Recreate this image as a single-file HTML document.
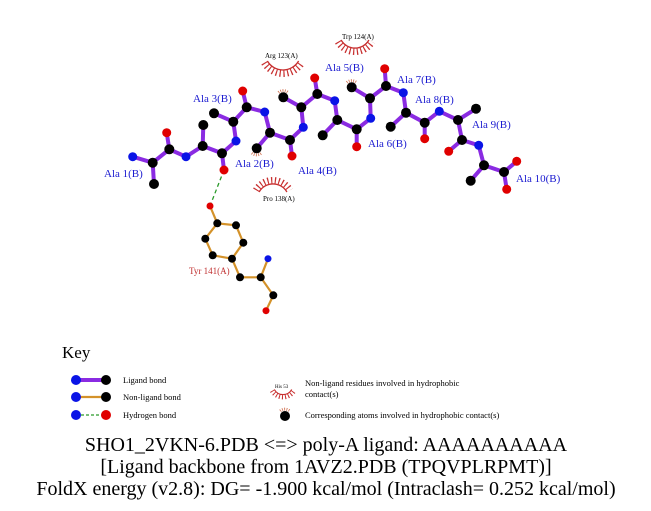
<!DOCTYPE html>
<html><head><meta charset="utf-8"><style>
html,body{margin:0;padding:0;background:#fff;}
svg{display:block;font-family:"Liberation Serif",serif;}
.lb{stroke:#8a2be2;stroke-width:4;stroke-linecap:round;fill:none}
.nb{stroke:#d4922a;stroke-width:2.2;fill:none}
.k{fill:#000}.b{fill:#0a14e6}.r{fill:#e00000}
.al{fill:#1a1ad0;font-size:11px}
.hl{stroke:#c83030;fill:none}
</style></head><body>
<svg width="651" height="511" viewBox="0 0 651 511" xmlns="http://www.w3.org/2000/svg">
<polyline class="lb" points="132.7,156.7 152.7,162.7 169.3,149.3 186,156.7 202.7,146 222,153.3 236,141 233.3,121.7 246.7,107.3 264.7,112 270,132.7 290,140 303.3,127.3 301.3,107.3 317.3,94 334.7,100.7 337.3,120 356.7,129.3 370.7,118.3 370,98.3 386,86 403.3,92.7 406,112.7 424.7,122.7 439.3,111.3 458,120 462,140 478.7,145.3 484,165.3 504,172"/>
<g class="lb">
<line x1="152.7" y1="162.7" x2="154" y2="184"/>
<line x1="169.3" y1="149.3" x2="166.7" y2="132.7"/>
<line x1="202.7" y1="146" x2="203.3" y2="125"/>
<line x1="222" y1="153.3" x2="224" y2="170"/>
<line x1="233.3" y1="121.7" x2="214" y2="113.3"/>
<line x1="246.7" y1="107.3" x2="242.7" y2="91"/>
<line x1="270" y1="132.7" x2="256.7" y2="148.3"/>
<line x1="290" y1="140" x2="292" y2="156"/>
<line x1="301.3" y1="107.3" x2="283.3" y2="97.3"/>
<line x1="317.3" y1="94" x2="314.7" y2="78"/>
<line x1="337.3" y1="120" x2="322.7" y2="135.3"/>
<line x1="356.7" y1="129.3" x2="356.7" y2="146.7"/>
<line x1="370" y1="98.3" x2="351.7" y2="87.3"/>
<line x1="386" y1="86" x2="384.7" y2="68.7"/>
<line x1="406" y1="112.7" x2="390.7" y2="126.7"/>
<line x1="424.7" y1="122.7" x2="424.7" y2="138.7"/>
<line x1="458" y1="120" x2="476" y2="108.7"/>
<line x1="462" y1="140" x2="448.7" y2="151.3"/>
<line x1="484" y1="165.3" x2="470.7" y2="180.7"/>
<line x1="504" y1="172" x2="516.7" y2="161.3"/>
<line x1="504" y1="172" x2="506.7" y2="189.3"/>
</g>
<polyline class="nb" points="210,206 217.3,223.3 236,225.3 243.3,242.7 232,258.7 212.7,255.3 205.3,238.7 217.3,223.3"/>
<polyline class="nb" points="232,258.7 240,277.3 260.7,277.3 273.3,295.3 266,310.7"/>
<line class="nb" x1="260.7" y1="277.3" x2="268" y2="258.7"/>
<line x1="224" y1="170" x2="210" y2="206" stroke="#2a9a2a" stroke-width="1.3" stroke-dasharray="4,3"/>
<g class="hl">
<path d="M267.4,61 A18,18 0 0 0 298.6,61" stroke-width="1.3"/>
<path d="M264.4,62.75 A21.5,21.5 0 0 0 301.6,62.75" stroke-width="7" stroke-dasharray="1.2,2.6"/>
<path d="M341.1,40 A16,16 0 0 0 368.9,40" stroke-width="1.3"/>
<path d="M338.1,41.75 A19.5,19.5 0 0 0 371.9,41.75" stroke-width="7" stroke-dasharray="1.2,2.5"/>
<path d="M259.1,192 A16,16 0 0 1 286.9,192" stroke-width="1.3"/>
<path d="M256.1,190.25 A19.5,19.5 0 0 1 289.9,190.25" stroke-width="7" stroke-dasharray="1.2,2.5"/>
<path d="M252,153 A7,7 0 0 0 261.4,153" stroke-width="3" stroke-dasharray="0.8,1.4" stroke="#d07050"/>
<path d="M278.6,92.5 A7,7 0 0 1 288,92.5" stroke-width="3" stroke-dasharray="0.8,1.4" stroke="#d07050"/>
<path d="M347,82.5 A7,7 0 0 1 356.4,82.5" stroke-width="3" stroke-dasharray="0.8,1.4" stroke="#d07050"/>
<path d="M274.3,389.5 A10,10 0 0 0 291.7,389.5" stroke-width="1.2"/>
<path d="M272.2,390.7 A12.5,12.5 0 0 0 293.8,390.7" stroke-width="5" stroke-dasharray="1,2"/>
<path d="M280.3,411 A7,7 0 0 1 289.7,411" stroke-width="3" stroke-dasharray="0.8,1.4" stroke="#d07050"/>
</g>
<text x="265" y="58" font-size="7">Arg 123(A)</text>
<text x="342" y="39" font-size="7">Trp 124(A)</text>
<text x="263" y="201" font-size="7">Pro 138(A)</text>
<g class="k">
<circle cx="152.7" cy="162.7" r="5"/><circle cx="154" cy="184" r="5"/><circle cx="169.3" cy="149.3" r="5"/>
<circle cx="202.7" cy="146" r="5"/><circle cx="203.3" cy="125" r="5"/><circle cx="222" cy="153.3" r="5"/>
<circle cx="233.3" cy="121.7" r="5"/><circle cx="214" cy="113.3" r="5"/><circle cx="246.7" cy="107.3" r="5"/>
<circle cx="270" cy="132.7" r="5"/><circle cx="256.7" cy="148.3" r="5"/><circle cx="290" cy="140" r="5"/>
<circle cx="301.3" cy="107.3" r="5"/><circle cx="283.3" cy="97.3" r="5"/><circle cx="317.3" cy="94" r="5"/>
<circle cx="337.3" cy="120" r="5"/><circle cx="322.7" cy="135.3" r="5"/><circle cx="356.7" cy="129.3" r="5"/>
<circle cx="370" cy="98.3" r="5"/><circle cx="351.7" cy="87.3" r="5"/><circle cx="386" cy="86" r="5"/>
<circle cx="406" cy="112.7" r="5"/><circle cx="390.7" cy="126.7" r="5"/><circle cx="424.7" cy="122.7" r="5"/>
<circle cx="458" cy="120" r="5"/><circle cx="476" cy="108.7" r="5"/><circle cx="462" cy="140" r="5"/>
<circle cx="484" cy="165.3" r="5"/><circle cx="470.7" cy="180.7" r="5"/><circle cx="504" cy="172" r="5"/>
<circle cx="217.3" cy="223.3" r="4"/><circle cx="236" cy="225.3" r="4"/><circle cx="243.3" cy="242.7" r="4"/>
<circle cx="232" cy="258.7" r="4"/><circle cx="212.7" cy="255.3" r="4"/><circle cx="205.3" cy="238.7" r="4"/>
<circle cx="240" cy="277.3" r="4"/><circle cx="260.7" cy="277.3" r="4"/><circle cx="273.3" cy="295.3" r="4"/>
</g>
<g class="b">
<circle cx="132.7" cy="156.7" r="4.5"/><circle cx="186" cy="156.7" r="4.5"/><circle cx="236" cy="141" r="4.5"/>
<circle cx="264.7" cy="112" r="4.5"/><circle cx="303.3" cy="127.3" r="4.5"/><circle cx="334.7" cy="100.7" r="4.5"/>
<circle cx="370.7" cy="118.3" r="4.5"/><circle cx="403.3" cy="92.7" r="4.5"/><circle cx="439.3" cy="111.3" r="4.5"/>
<circle cx="478.7" cy="145.3" r="4.5"/><circle cx="268" cy="258.7" r="3.5"/>
</g>
<g class="r">
<circle cx="166.7" cy="132.7" r="4.5"/><circle cx="224" cy="170" r="4.5"/><circle cx="242.7" cy="91" r="4.5"/>
<circle cx="292" cy="156" r="4.5"/><circle cx="314.7" cy="78" r="4.5"/><circle cx="356.7" cy="146.7" r="4.5"/>
<circle cx="384.7" cy="68.7" r="4.5"/><circle cx="424.7" cy="138.7" r="4.5"/><circle cx="448.7" cy="151.3" r="4.5"/>
<circle cx="516.7" cy="161.3" r="4.5"/><circle cx="506.7" cy="189.3" r="4.5"/>
<circle cx="210" cy="206" r="3.5"/><circle cx="266" cy="310.7" r="3.5"/>
</g>
<text class="al" x="104" y="177">Ala 1(B)</text>
<text class="al" x="193" y="102">Ala 3(B)</text>
<text class="al" x="235" y="167">Ala 2(B)</text>
<text class="al" x="298" y="174">Ala 4(B)</text>
<text class="al" x="325" y="71">Ala 5(B)</text>
<text class="al" x="397" y="83">Ala 7(B)</text>
<text class="al" x="415" y="103">Ala 8(B)</text>
<text class="al" x="472" y="128">Ala 9(B)</text>
<text class="al" x="368" y="147">Ala 6(B)</text>
<text class="al" x="516" y="182">Ala 10(B)</text>
<text x="189" y="274" font-size="9" fill="#c03030">Tyr 141(A)</text>
<text x="62" y="358" font-size="17">Key</text>
<line x1="76" y1="380" x2="106" y2="380" stroke="#8a2be2" stroke-width="4"/>
<circle cx="76" cy="380" r="5" class="b"/><circle cx="106" cy="380" r="5" class="k"/>
<line x1="76" y1="397" x2="106" y2="397" stroke="#d4922a" stroke-width="2.2"/>
<circle cx="76" cy="397" r="5" class="b"/><circle cx="106" cy="397" r="5" class="k"/>
<line x1="76" y1="415" x2="106" y2="415" stroke="#2a9a2a" stroke-width="1.3" stroke-dasharray="3,2"/>
<circle cx="76" cy="415" r="5" class="b"/><circle cx="106" cy="415" r="5" class="r"/>
<text x="123" y="383" font-size="8.5">Ligand bond</text>
<text x="123" y="400" font-size="8.5">Non-ligand bond</text>
<text x="123" y="418" font-size="8.5">Hydrogen bond</text>
<text x="275" y="388" font-size="5">His 53</text>
<circle cx="285" cy="416" r="5" class="k"/>
<text x="305" y="386" font-size="8.5">Non-ligand residues involved in hydrophobic</text>
<text x="305" y="397" font-size="8.5">contact(s)</text>
<text x="305" y="418" font-size="8.5">Corresponding atoms involved in hydrophobic contact(s)</text>
<g font-size="20" text-anchor="middle">
<text x="326" y="451">SHO1_2VKN-6.PDB &lt;=&gt; poly-A ligand: AAAAAAAAAA</text>
<text x="326" y="473">[Ligand backbone from 1AVZ2.PDB (TPQVPLRPMT)]</text>
<text x="326" y="495">FoldX energy (v2.8): DG= -1.900 kcal/mol (Intraclash= 0.252 kcal/mol)</text>
</g>
</svg>
</body></html>
